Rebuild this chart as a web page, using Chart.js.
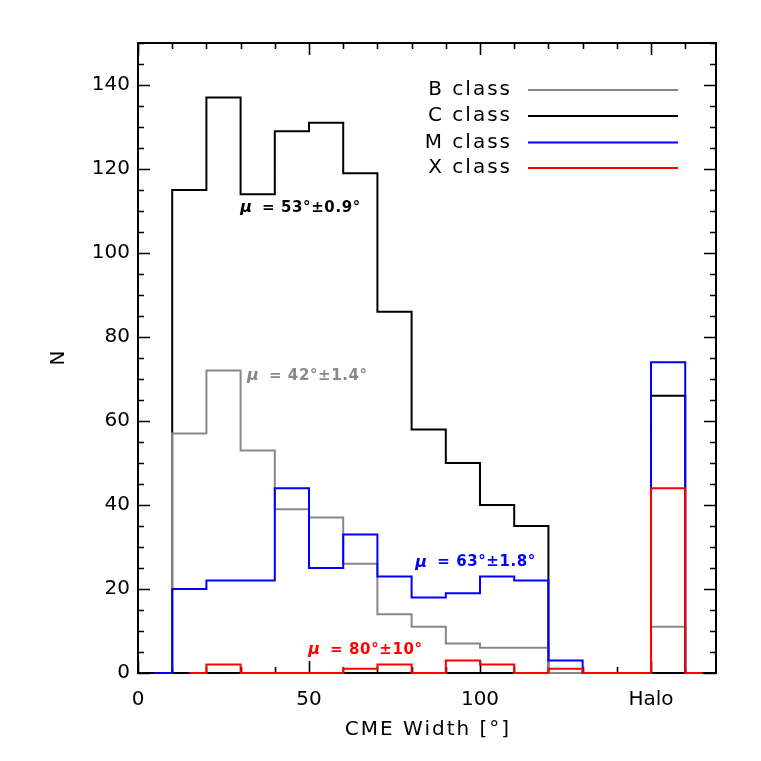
<!DOCTYPE html>
<html><head><meta charset="utf-8">
<script src="https://cdn.jsdelivr.net/npm/chart.js@4/dist/chart.umd.min.js"></script>
<style>html,body{margin:0;padding:0;background:#fff}#wrap{position:relative;width:761px;height:761px}</style>
</head><body><div id="wrap"><canvas id="c"></canvas></div>
<script>
// ---- data ----
const binCenters = [5,15,25,35,45,55,65,75,85,95,105,115,125,135,145,155,165]; // 155 = Halo bin
const bClass = [0,57,72,53,39,37,26,14,11,7,6,6,0,0,0,11,0];
const cClass = [0,115,137,114,129,131,119,86,58,50,40,35,0,0,0,66,0];
const mClass = [0,20,22,22,44,25,33,23,18,19,23,22,3,0,0,74,0];
const xClass = [null,0,2,0,0,0,1,2,0,3,2,0,1,0,0,44,0];
const seriesNames = ['B class','C class','M class','X class'];
const seriesColors = ['#888888','#000000','#0000ff','#ff0000'];
const meanTexts = ['= 42°±1.4°','= 53°±0.9°','= 63°±1.8°','= 80°±10°'];
const xTickValues = [0,50,100,150];
const xTickLabels = ['0','50','100','Halo'];
const yTickValues = [0,20,40,60,80,100,120,140];

const FONT = '"DejaVu Sans", sans-serif';
const pts = arr => binCenters.map((x,i) => ({x, y: arr[i]}));
const seriesData = [bClass, cClass, mClass, xClass];
const drawOrder = [3,4,2,1]; // gray above black, blue above gray, red on top

const datasets = seriesNames.map((name,i) => ({
  label: name,
  data: pts(seriesData[i]),
  borderColor: seriesColors[i],
  backgroundColor: seriesColors[i],
  borderWidth: 2,
  pointRadius: 0,
  stepped: 'middle',
  fill: false,
  clip: false,
  spanGaps: false,
  order: drawOrder[i]
}));

// annotation placements (data units) for the mean labels
const meanPos = [{x:31.9,y:70.8},{x:29.9,y:110.8},{x:81.1,y:26.3},{x:49.8,y:5.5}];

const decor = {
  id: 'decor',
  beforeDatasetsDraw(chart) {
    const ctx = chart.ctx, a = chart.chartArea;
    const xs = chart.scales.x, ys = chart.scales.y;
    ctx.save();
    ctx.strokeStyle = '#000';
    ctx.lineWidth = 2;
    ctx.strokeRect(a.left, a.top, a.right - a.left, a.bottom - a.top);
    ctx.lineWidth = 1.6;
    ctx.beginPath();
    for (let v = 0; v <= 160; v += 10) {
      const px = Math.round(xs.getPixelForValue(v)) + 0.5;
      const len = (v % 50 === 0) ? 12 : 6;
      ctx.moveTo(px, a.bottom); ctx.lineTo(px, a.bottom - len);
      ctx.moveTo(px, a.top); ctx.lineTo(px, a.top + len);
    }
    for (let v = 0; v <= 150; v += 5) {
      const py = Math.round(ys.getPixelForValue(v)) + 0.5;
      const len = (v % 20 === 0) ? 12 : 6;
      ctx.moveTo(a.left, py); ctx.lineTo(a.left + len, py);
      ctx.moveTo(a.right, py); ctx.lineTo(a.right - len, py);
    }
    ctx.stroke();
    ctx.restore();
  },
  afterDraw(chart) {
    const ctx = chart.ctx, a = chart.chartArea;
    const xs = chart.scales.x, ys = chart.scales.y;
    ctx.save();
    // axis titles
    ctx.fillStyle = '#000';
    ctx.font = '20px ' + FONT;
    ctx.letterSpacing = '2px';
    ctx.textAlign = 'center';
    ctx.textBaseline = 'middle';
    ctx.fillText('CME Width [°]', (a.left + a.right) / 2 + 1, 730);
    ctx.save();
    ctx.translate(59, 357);
    ctx.rotate(-Math.PI / 2);
    ctx.fillText('N', 0, 0);
    ctx.restore();

    // legend
    const ly = [90, 116, 142.5, 168];
    seriesNames.forEach((n, i) => {
      ctx.fillStyle = '#000';
      ctx.textAlign = 'right';
      ctx.fillText(n, 512, ly[i]);
      ctx.strokeStyle = seriesColors[i];
      ctx.lineWidth = 2;
      ctx.beginPath();
      ctx.moveTo(528, ly[i]); ctx.lineTo(678, ly[i]);
      ctx.stroke();
    });

    // mean labels
    ctx.letterSpacing = '0px';
    ctx.textAlign = 'left';
    meanTexts.forEach((t, i) => {
      const px = xs.getPixelForValue(meanPos[i].x);
      const py = ys.getPixelForValue(meanPos[i].y);
      ctx.fillStyle = seriesColors[i];
      ctx.font = 'italic bold 16px ' + FONT;
      ctx.fillText('μ', px, py);
      const w = ctx.measureText('μ').width;
      ctx.font = 'bold 15px ' + FONT;
      ctx.letterSpacing = '0.6px';
      ctx.fillText(t, px + w + 10, py);
      ctx.letterSpacing = '0px';
    });
    ctx.restore();
  }
};

new Chart(document.getElementById('c'), {
  type: 'line',
  data: { datasets },
  options: {
    responsive: true,
    maintainAspectRatio: false,
    animation: false,
    layout: { padding: { top: 43, right: 45, left: 0, bottom: 0 } },
    plugins: { legend: { display: false }, tooltip: { enabled: false } },
    scales: {
      x: {
        type: 'linear', min: 0, max: 169,
        grid: { display: false, drawTicks: false },
        border: { display: false },
        afterBuildTicks: s => { s.ticks = xTickValues.map(v => ({ value: v })); },
        afterFit: s => { s.height = 88; },
        ticks: {
          font: { family: FONT, size: 20 }, color: '#000', padding: 15, maxRotation: 0,
          callback: v => xTickLabels[xTickValues.indexOf(v)]
        }
      },
      y: {
        type: 'linear', min: 0, max: 150,
        grid: { display: false, drawTicks: false },
        border: { display: false },
        afterBuildTicks: s => { s.ticks = yTickValues.map(v => ({ value: v })); },
        afterFit: s => { s.width = 138; },
        ticks: { font: { family: FONT, size: 20 }, color: '#000', padding: 8 }
      }
    }
  },
  plugins: [decor]
});
</script>
</body></html>
